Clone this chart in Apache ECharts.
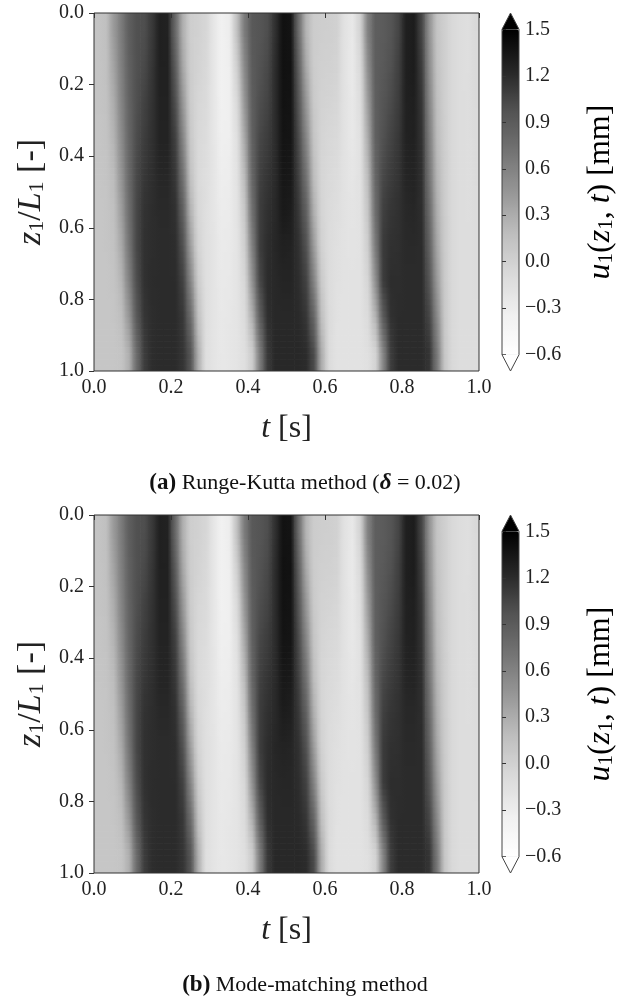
<!DOCTYPE html>
<html><head><meta charset="utf-8">
<script src="https://cdn.jsdelivr.net/npm/echarts@6/dist/echarts.min.js"></script>
<style>html,body{margin:0;padding:0;background:#fff}#c{width:617px;height:1000px}</style>
</head><body><div id="c"></div>
<script>
// ---- data ----
const tCenters = [0.01,0.03,0.05,0.07,0.09,0.11,0.13,0.15,0.17,0.19,0.21,0.23,0.25,0.27,0.29,0.31,0.33,0.35,0.37,0.39,0.41,0.43,0.45,0.47,0.49,0.51,0.53,0.55,0.57,0.59,0.61,0.63,0.65,0.67,0.69,0.71,0.73,0.75,0.77,0.79,0.81,0.83,0.85,0.87,0.89,0.91,0.93,0.95,0.97,0.99];
const zCenters = [0.05,0.15,0.25,0.35,0.45,0.55,0.65,0.75,0.85,0.95];
const axisTicks = [0.0,0.2,0.4,0.6,0.8,1.0];
const colorTicks = [-0.6,-0.3,0.0,0.3,0.6,0.9,1.2,1.5];

// (a) Runge-Kutta, u1 [mm], one array per z1/L1 row
const rk_z005 = [0.12,0.16,0.42,0.65,0.88,0.98,1.00,1.12,1.27,1.26,0.80,0.28,0.03,0.00,-0.05,-0.22,-0.36,-0.30,0.15,0.65,0.92,0.95,1.00,1.18,1.38,1.36,0.78,0.25,0.05,0.03,0.02,0.00,-0.18,-0.25,-0.02,0.60,0.88,0.90,0.95,1.05,1.28,1.30,1.05,0.48,0.12,0.02,-0.08,-0.12,-0.14,-0.08];
const rk_z015 = [0.12,0.15,0.36,0.62,0.86,0.98,1.03,1.14,1.27,1.27,0.90,0.34,0.04,-0.02,-0.07,-0.22,-0.36,-0.32,0.02,0.55,0.90,0.97,1.03,1.20,1.38,1.37,0.88,0.33,0.05,0.01,0.00,-0.02,-0.18,-0.26,-0.08,0.50,0.88,0.92,0.98,1.08,1.28,1.30,1.10,0.53,0.14,0.02,-0.08,-0.12,-0.14,-0.09];
const rk_z025 = [0.12,0.14,0.30,0.58,0.84,0.99,1.07,1.16,1.26,1.26,1.00,0.45,0.05,-0.05,-0.09,-0.22,-0.35,-0.33,-0.08,0.45,0.88,1.00,1.06,1.20,1.37,1.36,0.96,0.45,0.07,-0.01,-0.03,-0.05,-0.18,-0.25,-0.13,0.40,0.87,0.95,1.02,1.10,1.27,1.28,1.14,0.58,0.17,0.02,-0.08,-0.12,-0.13,-0.09];
const rk_z035 = [0.11,0.13,0.25,0.53,0.82,1.01,1.10,1.17,1.25,1.25,1.08,0.58,0.08,-0.07,-0.11,-0.22,-0.33,-0.32,-0.15,0.33,0.86,1.04,1.10,1.20,1.36,1.35,1.03,0.58,0.12,-0.03,-0.06,-0.08,-0.18,-0.24,-0.16,0.30,0.86,0.98,1.06,1.13,1.26,1.27,1.16,0.64,0.20,0.03,-0.08,-0.12,-0.13,-0.10];
const rk_z045 = [0.11,0.12,0.20,0.47,0.80,1.03,1.13,1.18,1.23,1.23,1.13,0.72,0.14,-0.08,-0.13,-0.21,-0.31,-0.30,-0.18,0.22,0.82,1.08,1.14,1.21,1.34,1.33,1.08,0.72,0.18,-0.04,-0.08,-0.11,-0.18,-0.22,-0.17,0.20,0.82,1.03,1.10,1.15,1.24,1.25,1.18,0.70,0.24,0.04,-0.08,-0.12,-0.13,-0.10];
const rk_z055 = [0.10,0.11,0.16,0.40,0.76,1.04,1.16,1.19,1.21,1.21,1.17,0.86,0.25,-0.06,-0.14,-0.21,-0.29,-0.28,-0.19,0.10,0.74,1.10,1.17,1.22,1.32,1.30,1.13,0.86,0.28,-0.03,-0.10,-0.13,-0.18,-0.20,-0.18,0.11,0.76,1.08,1.14,1.17,1.22,1.23,1.19,0.78,0.29,0.05,-0.08,-0.12,-0.13,-0.11];
const rk_z065 = [0.10,0.11,0.14,0.32,0.70,1.04,1.17,1.19,1.20,1.20,1.19,0.98,0.40,-0.02,-0.14,-0.20,-0.27,-0.26,-0.20,0.02,0.62,1.10,1.19,1.23,1.27,1.26,1.17,0.98,0.42,0.00,-0.11,-0.15,-0.18,-0.19,-0.18,0.03,0.66,1.11,1.17,1.18,1.21,1.21,1.20,0.86,0.35,0.06,-0.08,-0.12,-0.12,-0.11];
const rk_z075 = [0.10,0.10,0.12,0.24,0.60,1.00,1.17,1.20,1.20,1.20,1.20,1.07,0.58,0.05,-0.14,-0.20,-0.26,-0.25,-0.20,-0.05,0.48,1.04,1.20,1.22,1.24,1.24,1.19,1.07,0.60,0.07,-0.11,-0.16,-0.18,-0.18,-0.18,-0.04,0.50,1.10,1.19,1.19,1.20,1.20,1.20,0.95,0.43,0.07,-0.08,-0.12,-0.12,-0.11];
const rk_z085 = [0.10,0.10,0.11,0.17,0.45,0.92,1.14,1.19,1.20,1.20,1.20,1.13,0.78,0.15,-0.13,-0.20,-0.25,-0.23,-0.20,-0.10,0.28,0.88,1.18,1.22,1.22,1.22,1.21,1.14,0.82,0.17,-0.10,-0.17,-0.18,-0.18,-0.18,-0.10,0.25,0.90,1.17,1.20,1.20,1.20,1.20,1.05,0.55,0.08,-0.08,-0.12,-0.12,-0.12];
const rk_z095 = [0.10,0.10,0.10,0.12,0.28,0.78,1.10,1.19,1.20,1.20,1.20,1.15,0.95,0.28,-0.14,-0.20,-0.24,-0.22,-0.20,-0.14,0.05,0.65,1.12,1.22,1.22,1.22,1.22,1.20,1.02,0.30,-0.10,-0.18,-0.18,-0.18,-0.18,-0.15,-0.02,0.58,1.10,1.20,1.20,1.20,1.20,1.15,0.68,0.10,-0.08,-0.12,-0.12,-0.12];

// (b) Mode-matching, u1 [mm]
const mm_z005 = [0.12,0.16,0.42,0.65,0.88,0.98,1.00,1.12,1.27,1.26,0.80,0.28,0.03,0.00,-0.05,-0.22,-0.36,-0.30,0.15,0.65,0.92,0.95,1.00,1.18,1.37,1.36,0.78,0.25,0.05,0.03,0.02,0.00,-0.18,-0.25,-0.02,0.60,0.88,0.90,0.95,1.05,1.28,1.30,1.05,0.48,0.12,0.02,-0.08,-0.12,-0.14,-0.08];
const mm_z015 = [0.12,0.15,0.36,0.62,0.86,0.98,1.03,1.14,1.27,1.27,0.90,0.34,0.04,-0.02,-0.07,-0.22,-0.36,-0.32,0.02,0.55,0.90,0.97,1.03,1.20,1.38,1.37,0.88,0.33,0.05,0.01,0.00,-0.02,-0.18,-0.26,-0.08,0.50,0.88,0.92,0.98,1.08,1.28,1.30,1.10,0.53,0.14,0.02,-0.08,-0.12,-0.14,-0.09];
const mm_z025 = [0.12,0.14,0.30,0.58,0.84,0.99,1.07,1.16,1.26,1.26,1.00,0.45,0.05,-0.05,-0.09,-0.22,-0.35,-0.33,-0.08,0.45,0.88,1.00,1.06,1.20,1.37,1.36,0.96,0.45,0.07,-0.01,-0.03,-0.05,-0.18,-0.25,-0.13,0.40,0.87,0.95,1.02,1.10,1.27,1.28,1.14,0.58,0.17,0.02,-0.08,-0.12,-0.13,-0.09];
const mm_z035 = [0.11,0.13,0.25,0.53,0.82,1.01,1.10,1.17,1.25,1.25,1.08,0.58,0.08,-0.07,-0.11,-0.22,-0.33,-0.32,-0.15,0.33,0.86,1.04,1.10,1.20,1.36,1.35,1.03,0.58,0.12,-0.03,-0.06,-0.08,-0.18,-0.24,-0.16,0.30,0.86,0.98,1.06,1.13,1.26,1.27,1.16,0.64,0.20,0.03,-0.08,-0.12,-0.13,-0.10];
const mm_z045 = [0.11,0.12,0.20,0.47,0.80,1.03,1.13,1.18,1.24,1.24,1.13,0.72,0.14,-0.08,-0.13,-0.21,-0.31,-0.30,-0.18,0.22,0.82,1.08,1.14,1.21,1.33,1.32,1.08,0.72,0.18,-0.04,-0.08,-0.11,-0.18,-0.22,-0.17,0.20,0.82,1.03,1.10,1.15,1.24,1.25,1.18,0.70,0.24,0.04,-0.08,-0.12,-0.13,-0.10];
const mm_z055 = [0.10,0.11,0.16,0.40,0.76,1.04,1.16,1.19,1.22,1.22,1.17,0.86,0.25,-0.06,-0.14,-0.21,-0.29,-0.28,-0.19,0.10,0.74,1.10,1.17,1.22,1.30,1.28,1.13,0.86,0.28,-0.03,-0.10,-0.13,-0.18,-0.20,-0.18,0.11,0.76,1.08,1.14,1.17,1.22,1.22,1.19,0.78,0.29,0.05,-0.08,-0.12,-0.13,-0.11];
const mm_z065 = [0.10,0.11,0.14,0.32,0.70,1.04,1.17,1.19,1.20,1.20,1.19,0.98,0.40,-0.02,-0.14,-0.20,-0.27,-0.26,-0.20,0.02,0.62,1.10,1.19,1.23,1.25,1.24,1.17,0.98,0.42,0.00,-0.11,-0.15,-0.18,-0.19,-0.18,0.03,0.66,1.11,1.17,1.18,1.21,1.21,1.20,0.86,0.35,0.06,-0.08,-0.12,-0.12,-0.11];
const mm_z075 = [0.10,0.10,0.12,0.24,0.60,1.00,1.17,1.20,1.20,1.20,1.20,1.07,0.58,0.05,-0.14,-0.20,-0.26,-0.25,-0.20,-0.05,0.48,1.04,1.20,1.22,1.23,1.23,1.19,1.07,0.60,0.07,-0.11,-0.16,-0.18,-0.18,-0.18,-0.04,0.50,1.10,1.19,1.19,1.20,1.20,1.20,0.95,0.43,0.07,-0.08,-0.12,-0.12,-0.11];
const mm_z085 = [0.10,0.10,0.11,0.17,0.45,0.92,1.14,1.19,1.20,1.20,1.20,1.13,0.78,0.15,-0.13,-0.20,-0.25,-0.23,-0.20,-0.10,0.28,0.88,1.18,1.22,1.22,1.22,1.21,1.14,0.82,0.17,-0.10,-0.17,-0.18,-0.18,-0.18,-0.10,0.25,0.90,1.17,1.20,1.20,1.20,1.20,1.05,0.55,0.08,-0.08,-0.12,-0.12,-0.12];
const mm_z095 = [0.10,0.10,0.10,0.12,0.28,0.78,1.10,1.19,1.20,1.20,1.20,1.15,0.95,0.28,-0.14,-0.20,-0.24,-0.22,-0.20,-0.14,0.05,0.65,1.12,1.22,1.22,1.22,1.22,1.20,1.02,0.30,-0.10,-0.18,-0.18,-0.18,-0.18,-0.15,-0.02,0.58,1.10,1.20,1.20,1.20,1.20,1.15,0.68,0.10,-0.08,-0.12,-0.12,-0.12];

const rkRows = [rk_z005,rk_z015,rk_z025,rk_z035,rk_z045,rk_z055,rk_z065,rk_z075,rk_z085,rk_z095];
const mmRows = [mm_z005,mm_z015,mm_z025,mm_z035,mm_z045,mm_z055,mm_z065,mm_z075,mm_z085,mm_z095];

// ---- layout / style ----
const FONT = 'Liberation Serif';
const INK = '#222';
const LINE = '#333';
const greys = ['#ffffff','#f0f0f0','#d9d9d9','#bdbdbd','#969696','#737373','#525252','#252525','#000000'];
const VMIN = colorTicks[0], VMAX = colorTicks[colorTicks.length - 1];
const PL = 94, PW = 385, PH = 358;
const TOPS = [13, 515];
const CBX = 502, CBW = 17;
const EXT = PH * 0.05 / 1.1, CBH = PH / 1.1;
const TITLE = 32;
const STRIPS = 6; // vertical shading sub-strips per row

function colorOf(v) {
  const f = Math.max(0, Math.min(1, (v - VMIN) / (VMAX - VMIN)));
  return echarts.color.lerp(f, greys);
}
function cells(rows) {
  const out = [];
  rows.forEach((r, j) => r.forEach((v, i) => out.push([tCenters[i], zCenters[j], v, i, j])));
  return out;
}
// smooth shading of the read grid (gouraud-like): horizontal gradients, vertical sub-strips
function makeRender(rows) {
  const n = tCenters.length, m = zCenters.length;
  return function (params, api) {
    const i = api.value(3), j = api.value(4);
    const tl = i > 0 ? (tCenters[i - 1] + tCenters[i]) / 2 : 0;
    const tr = i < n - 1 ? (tCenters[i] + tCenters[i + 1]) / 2 : 1;
    const zt = j > 0 ? (zCenters[j - 1] + zCenters[j]) / 2 : 0;
    const zb = j < m - 1 ? (zCenters[j] + zCenters[j + 1]) / 2 : 1;
    const children = [];
    for (let s = 0; s < STRIPS; s++) {
      const za = zt + (zb - zt) * s / STRIPS, zc = zt + (zb - zt) * (s + 0.5) / STRIPS, ze = zt + (zb - zt) * (s + 1) / STRIPS;
      let nb = j, w = 0;
      if (zc < zCenters[j] && j > 0) { nb = j - 1; w = (zCenters[j] - zc) / (zCenters[j] - zCenters[j - 1]); }
      else if (zc > zCenters[j] && j < m - 1) { nb = j + 1; w = (zc - zCenters[j]) / (zCenters[j + 1] - zCenters[j]); }
      const val = c => (1 - w) * rows[j][c] + w * rows[nb][c];
      const v = val(i);
      const vl = i > 0 ? (val(i - 1) + v) / 2 : v;
      const vr = i < n - 1 ? (val(i + 1) + v) / 2 : v;
      const p0 = api.coord([tl, za]), p1 = api.coord([tr, ze]);
      children.push({
        type: 'rect',
        shape: { x: p0[0], y: p0[1], width: p1[0] - p0[0] + 0.7, height: p1[1] - p0[1] + 0.7 },
        style: { fill: new echarts.graphic.LinearGradient(0, 0, 1, 0, [
          { offset: 0, color: colorOf(vl) }, { offset: 0.5, color: colorOf(v) }, { offset: 1, color: colorOf(vr) }]) }
      });
    }
    return { type: 'group', children: children };
  };
}
const fmt1 = v => { if (Math.abs(v) < 1e-9) v = 0; return v.toFixed(1).replace('-', '\u2212'); };

const grids = [], xAxes = [], yAxes = [], series = [], vms = [], gfx = [];
const captions = [
  '{b|(a)}{r| Runge-Kutta method (}{i|\u03b4}{r| = 0.02)}',
  '{b|(b)}{r| Mode-matching method}'
];
const richMath = {
  i: { fontFamily: FONT, fontStyle: 'italic', fontSize: TITLE, color: INK },
  r: { fontFamily: FONT, fontSize: TITLE, color: INK },
  s: { fontFamily: FONT, fontSize: 21, color: INK, verticalAlign: 'bottom', lineHeight: 14 }
};
const richY = {
  i: { fontFamily: FONT, fontStyle: 'italic', fontSize: 34, color: INK },
  r: { fontFamily: FONT, fontSize: 34, color: INK },
  s: { fontFamily: FONT, fontSize: 22, color: INK, verticalAlign: 'bottom', lineHeight: 14 }
};
const richCap = {
  b: { fontFamily: FONT, fontWeight: 'bold', fontSize: 23, color: '#111' },
  i: { fontFamily: FONT, fontStyle: 'italic', fontWeight: 'bold', fontSize: 23, color: '#111' },
  r: { fontFamily: FONT, fontSize: 22, color: '#111' }
};

[rkRows, mmRows].forEach((rows, k) => {
  const top = TOPS[k];
  grids.push({ left: PL, top: top, width: PW, height: PH, show: true, z: 5,
               backgroundColor: 'transparent', borderColor: LINE, borderWidth: 1 });
  const g = grids.length - 1;
  xAxes.push({ gridIndex: g, type: 'value', min: 0, max: 1, interval: 0.2, position: 'bottom', z: 10,
    axisLine: { show: false }, splitLine: { show: false },
    axisTick: { show: true, length: 5, lineStyle: { color: LINE, width: 1 } },
    axisLabel: { margin: 7, fontFamily: FONT, fontSize: 20, color: INK, formatter: fmt1 },
    name: '{i|t}{r| [s]}', nameLocation: 'middle', nameGap: 42,
    nameTextStyle: { rich: richMath } });
  const xc = xAxes.length - 1;
  yAxes.push({ gridIndex: g, type: 'value', min: 0, max: 1, interval: 0.2, inverse: true, position: 'left', z: 10,
    axisLine: { show: false }, splitLine: { show: false },
    axisTick: { show: true, length: 5, lineStyle: { color: LINE, width: 1 } },
    axisLabel: { margin: 10, fontFamily: FONT, fontSize: 20, color: INK, formatter: fmt1 },
    name: '{i|z}{s|1}{r|/}{i|L}{s|1}{r| [-]}', nameLocation: 'middle', nameGap: 45, nameRotate: 90,
    nameTextStyle: { rich: richY } });
  const yc = yAxes.length - 1;
  series.push({ type: 'custom', xAxisIndex: xc, yAxisIndex: yc, data: cells(rows), clip: true,
    renderItem: makeRender(rows), encode: { x: 0, y: 1 }, silent: true });
  const sIdx = series.length - 1;

  // colorbar axis grid
  const cbTop = top + EXT;
  grids.push({ left: CBX, top: cbTop, width: CBW, height: CBH, show: false });
  const cg = grids.length - 1;
  xAxes.push({ gridIndex: cg, type: 'value', min: 0, max: 1, show: false });
  yAxes.push({ gridIndex: cg, type: 'value', min: VMIN, max: VMAX,
    interval: 0.3, position: 'right', z: 10,
    axisLine: { show: false }, splitLine: { show: false },
    axisTick: { show: true, length: 4, lineStyle: { color: LINE, width: 1 } },
    axisLabel: { margin: 6, fontFamily: FONT, fontSize: 20, color: INK, formatter: fmt1 } });

  vms.push({ type: 'continuous', seriesIndex: sIdx, dimension: 2, min: VMIN, max: VMAX,
    orient: 'vertical', left: CBX, top: cbTop, itemWidth: CBW, itemHeight: CBH, padding: 0,
    calculable: false, hoverLink: false, showLabel: false, text: null,
    inRange: { color: greys } });

  const x0 = CBX, x1 = CBX + CBW, xm = CBX + CBW / 2;
  const y0 = cbTop, y1 = cbTop + CBH;
  gfx.push({ type: 'polygon', z: 20, shape: { points: [[x0, y0], [x1, y0], [xm, top]] }, style: { fill: '#000' } });
  gfx.push({ type: 'polygon', z: 20, shape: { points: [[x0, y1], [x1, y1], [xm, top + PH]] }, style: { fill: '#fff' } });
  gfx.push({ type: 'polygon', z: 21, shape: { points: [[xm, top], [x1, y0], [x1, y1], [xm, top + PH], [x0, y1], [x0, y0]] },
    style: { fill: 'none', stroke: '#444', lineWidth: 1 } });
  gfx.push({ type: 'text', z: 20, x: 601, y: top + PH / 2, rotation: Math.PI / 2,
    style: { text: '{i|u}{s|1}{r|(}{i|z}{s|1}{r|, }{i|t}{r|) [mm]}', align: 'center', verticalAlign: 'middle',
      rich: richMath } });
  gfx.push({ type: 'text', z: 20, x: 305, y: top + 470,
    style: { text: captions[k], align: 'center', verticalAlign: 'middle', rich: richCap,
      fontFamily: FONT, fontSize: 22, fill: '#111' } });
});

const chart = echarts.init(document.getElementById('c'), null, { renderer: 'canvas' });
chart.setOption({
  animation: false,
  backgroundColor: '#fff',
  grid: grids, xAxis: xAxes, yAxis: yAxes,
  visualMap: vms, series: series,
  graphic: { elements: gfx }
});
</script></body></html>
